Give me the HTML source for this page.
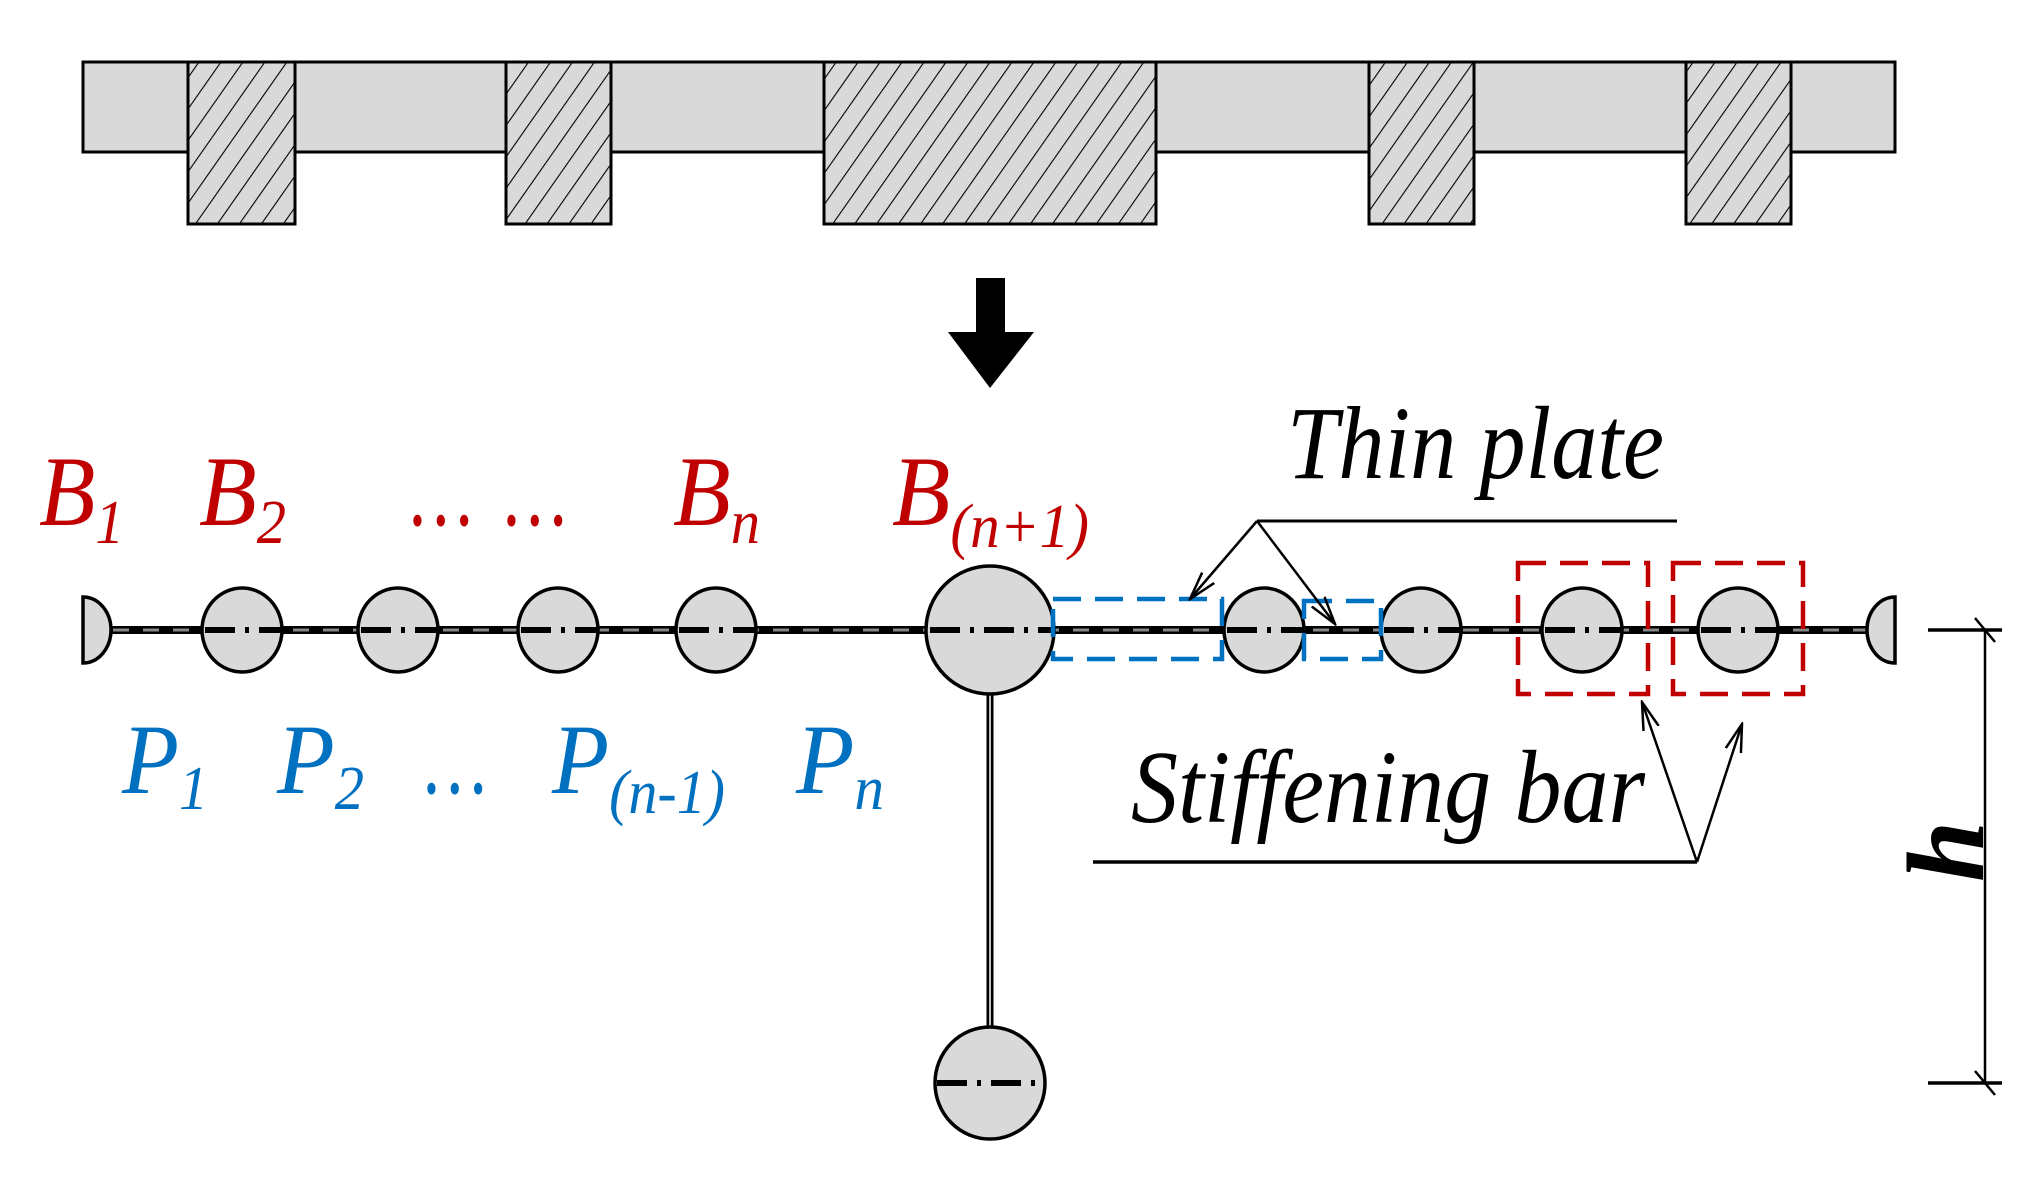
<!DOCTYPE html>
<html><head><meta charset="utf-8"><style>html,body{margin:0;padding:0;background:#fff}svg{display:block}</style></head>
<body>
<svg width="2028" height="1188" viewBox="0 0 2028 1188" xmlns="http://www.w3.org/2000/svg" font-family="'Liberation Serif', serif" font-style="italic">
<defs>
<pattern id="h" patternUnits="userSpaceOnUse" width="18" height="18" patternTransform="rotate(35)">
<rect width="18" height="18" fill="#d9d9d9"/><line x1="0" y1="0" x2="0" y2="18" stroke="#000" stroke-width="2.2"/>
</pattern>
<marker id="a" markerWidth="30" markerHeight="20" refX="28" refY="10" orient="auto" markerUnits="userSpaceOnUse">
<path d="M0,2 L28,10 L0,18" fill="none" stroke="#000" stroke-width="2.5"/>
</marker>
</defs>
<rect x="83" y="62" width="1812" height="90" fill="#d9d9d9" stroke="#000" stroke-width="3"/>
<g fill="url(#h)" stroke="#000" stroke-width="3">
<rect x="188" y="62" width="107" height="162"/>
<rect x="506" y="62" width="105" height="162"/>
<rect x="824" y="62" width="332" height="162"/>
<rect x="1369" y="62" width="105" height="162"/>
<rect x="1686" y="62" width="105" height="162"/>
</g>
<rect x="976" y="278" width="29" height="55" fill="#000"/>
<polygon points="948,332 1034,332 990,388" fill="#000"/>
<line x1="83" y1="630" x2="1895" y2="630" stroke="#000" stroke-width="8"/>
<line x1="83" y1="630" x2="1895" y2="630" stroke="#888" stroke-width="3" stroke-dasharray="16,14"/>
<line x1="990" y1="690" x2="990" y2="1030" stroke="#000" stroke-width="7"/>
<line x1="990" y1="690" x2="990" y2="1030" stroke="#fff" stroke-width="1.5"/>
<g fill="#d9d9d9" stroke="#000" stroke-width="3.5">
<path d="M83,597 A28,33 0 0 1 83,663 Z"/>
<path d="M1895,597 A28,33 0 0 0 1895,663 Z"/>
<ellipse cx="242" cy="630" rx="40" ry="42"/>
<ellipse cx="398" cy="630" rx="40" ry="42"/>
<ellipse cx="558" cy="630" rx="40" ry="42"/>
<ellipse cx="716" cy="630" rx="40" ry="42"/>
<ellipse cx="990" cy="630" rx="64" ry="64"/>
<ellipse cx="1264" cy="630" rx="40" ry="42"/>
<ellipse cx="1421" cy="630" rx="40" ry="42"/>
<ellipse cx="1582" cy="630" rx="40" ry="42"/>
<ellipse cx="1738" cy="630" rx="40" ry="42"/>
<ellipse cx="990" cy="1083" rx="55" ry="56"/>
</g>
<g stroke="#000" stroke-width="6" stroke-dasharray="30,10,4,10">
<line x1="205" y1="630" x2="282" y2="630"/>
<line x1="361" y1="630" x2="438" y2="630"/>
<line x1="521" y1="630" x2="598" y2="630"/>
<line x1="679" y1="630" x2="756" y2="630"/>
<line x1="930" y1="630" x2="1054" y2="630"/>
<line x1="1227" y1="630" x2="1304" y2="630"/>
<line x1="1384" y1="630" x2="1461" y2="630"/>
<line x1="1545" y1="630" x2="1622" y2="630"/>
<line x1="1701" y1="630" x2="1778" y2="630"/>
<line x1="937" y1="1083" x2="1045" y2="1083"/>
</g>
<g fill="none" stroke="#0070c0" stroke-width="4.5" stroke-dasharray="28,14">
<rect x="1053" y="599" width="169" height="60"/>
<rect x="1304" y="601" width="77" height="58"/>
</g>
<g fill="none" stroke="#c00000" stroke-width="4.5" stroke-dasharray="28,14">
<rect x="1518" y="563" width="130" height="131"/>
<rect x="1673" y="563" width="130" height="131"/>
</g>
<g stroke="#000" stroke-width="2.5" fill="none">
<line x1="1257" y1="521" x2="1677" y2="521" stroke-width="3"/>
<line x1="1257" y1="521" x2="1190" y2="599" marker-end="url(#a)"/>
<line x1="1257" y1="521" x2="1335" y2="624" marker-end="url(#a)"/>
<line x1="1093" y1="862" x2="1697" y2="862" stroke-width="3.5"/>
<line x1="1697" y1="862" x2="1642" y2="702" marker-end="url(#a)"/>
<line x1="1697" y1="862" x2="1742" y2="724" marker-end="url(#a)"/>
<line x1="1985" y1="630" x2="1985" y2="1083"/>
<line x1="1928" y1="630" x2="2002" y2="630" stroke-width="3.5"/>
<line x1="1928" y1="1083" x2="2002" y2="1083" stroke-width="3.5"/>
<line x1="1975" y1="618" x2="1995" y2="642"/>
<line x1="1975" y1="1071" x2="1995" y2="1095"/>
</g>
<text x="1287" y="478" font-size="104" textLength="377" lengthAdjust="spacingAndGlyphs">Thin plate</text>
<text x="1131" y="822" font-size="104" textLength="514" lengthAdjust="spacingAndGlyphs">Stiffening bar</text>
<text transform="translate(1983,882) rotate(-90)" font-size="110" font-weight="bold">h</text>
<g fill="#c00000" font-size="100">
<text x="39" y="525" textLength="85" lengthAdjust="spacingAndGlyphs">B<tspan font-size="62" dy="18">1</tspan></text>
<text x="199" y="525" textLength="87" lengthAdjust="spacingAndGlyphs">B<tspan font-size="62" dy="18">2</tspan></text>
<text x="411" y="525" textLength="62" lengthAdjust="spacingAndGlyphs">…</text>
<text x="505" y="525" textLength="62" lengthAdjust="spacingAndGlyphs">…</text>
<text x="673" y="525" textLength="87" lengthAdjust="spacingAndGlyphs">B<tspan font-size="62" dy="18">n</tspan></text>
<text x="892" y="525" textLength="197" lengthAdjust="spacingAndGlyphs">B<tspan font-size="62" dy="22">(n+1)</tspan></text>
</g>
<g fill="#0070c0" font-size="100">
<text x="122" y="793" textLength="86" lengthAdjust="spacingAndGlyphs">P<tspan font-size="62" dy="16">1</tspan></text>
<text x="277" y="793" textLength="87" lengthAdjust="spacingAndGlyphs">P<tspan font-size="62" dy="16">2</tspan></text>
<text x="425" y="793" textLength="62" lengthAdjust="spacingAndGlyphs">…</text>
<text x="552" y="793" textLength="173" lengthAdjust="spacingAndGlyphs">P<tspan font-size="62" dy="20">(n-1)</tspan></text>
<text x="796" y="793" textLength="88" lengthAdjust="spacingAndGlyphs">P<tspan font-size="62" dy="16">n</tspan></text>
</g>
</svg>
</body></html>
